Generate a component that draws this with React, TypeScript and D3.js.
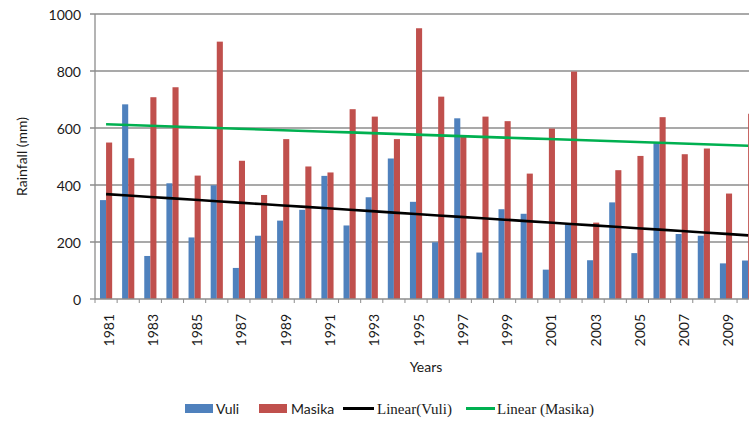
import * as d3 from 'd3';

const years = d3.range(1981, 2011).map(String);
const vuli = [347, 683, 151, 406, 216, 399, 109, 222, 275, 313, 432, 258, 357, 493, 341, 199, 634, 163, 315, 299, 103, 264, 136, 339, 161, 547, 228, 222, 125, 135];
const masika = [549, 494, 708, 743, 433, 903, 485, 365, 561, 465, 444, 666, 640, 561, 950, 710, 570, 640, 624, 440, 598, 798, 268, 452, 502, 638, 508, 528, 370, 650];
const yTicks = [0, 200, 400, 600, 800, 1000];
const seriesNames = ['Vuli', 'Masika'];

const width = 749;
const height = 421;
const plotLeft = 95;
const plotTop = 14;
const plotBottom = 299;
const step = 22.14;

const blue = '#4F81BD';
const red = '#C0504D';
const green = '#00B050';
const grid = '#8c8c8c';
const sansFont = 'Lato, "Open Sans", sans-serif';

// least-squares trend, like Excel's linear trendline
function linearTrend(values: number[]) {
  const n = values.length;
  const mx = (n - 1) / 2;
  const my = d3.mean(values) || 0;
  let num = 0;
  let den = 0;
  values.forEach((v, i) => {
    num += (i - mx) * (v - my);
    den += (i - mx) * (i - mx);
  });
  const slope = num / den;
  return values.map((_, i) => my + slope * (i - mx));
}

export default function App() {
  const x = d3.scaleBand<string>()
    .domain(years)
    .range([plotLeft, plotLeft + step * years.length])
    .paddingInner(0.45)
    .paddingOuter(0.225);
  const sub = d3.scaleBand<string>().domain(seriesNames).range([0, x.bandwidth()]);
  const y = d3.scaleLinear().domain([0, 1000]).range([plotBottom, plotTop]);

  const center = (yr: string) => (x(yr) || 0) + x.bandwidth() / 2;
  const line = d3.line<number>()
    .x((_, i) => center(years[i]))
    .y(d => y(d));

  const vuliTrend = linearTrend(vuli);
  const masikaTrend = linearTrend(masika);

  const boundaries = d3.range(years.length + 1).map(i => plotLeft + i * step);

  return (
    <svg width={width} height={height} style={{ position: 'absolute', left: 0, top: 0, background: '#fff' }}>
      {/* gridlines */}
      {yTicks.filter(t => t > 0).map(t => (
        <line key={t} x1={plotLeft - 5} x2={width} y1={y(t)} y2={y(t)} stroke={grid} strokeWidth={1.3} />
      ))}
      <line x1={plotLeft - 5} x2={plotLeft} y1={y(0)} y2={y(0)} stroke={grid} strokeWidth={1.3} />
      <line x1={plotLeft} x2={plotLeft} y1={plotTop} y2={plotBottom} stroke={grid} strokeWidth={1.3} />

      {/* bars */}
      {years.map((yr, i) => (
        <g key={yr}>
          <rect x={(x(yr) || 0) + (sub('Vuli') || 0)} y={y(vuli[i])} width={sub.bandwidth()} height={plotBottom - y(vuli[i])} fill={blue} />
          <rect x={(x(yr) || 0) + (sub('Masika') || 0)} y={y(masika[i])} width={sub.bandwidth()} height={plotBottom - y(masika[i])} fill={red} />
        </g>
      ))}

      {/* x axis */}
      <line x1={plotLeft} x2={width} y1={plotBottom} y2={plotBottom} stroke={grid} strokeWidth={1.3} />
      {boundaries.map((bx, i) => (
        <line key={i} x1={bx} x2={bx} y1={plotBottom} y2={plotBottom + 4} stroke={grid} strokeWidth={1} />
      ))}

      {/* trendlines */}
      <path d={line(vuliTrend) || ''} fill="none" stroke="#000" strokeWidth={2.6} />
      <path d={line(masikaTrend) || ''} fill="none" stroke={green} strokeWidth={2.6} />

      {/* y tick labels */}
      {yTicks.map(t => (
        <text key={t} x={81} y={y(t)} textAnchor="end" dominantBaseline="central" fontFamily={sansFont} fontSize={14} fill="#1a1a1a">
          {t}
        </text>
      ))}

      {/* x tick labels */}
      {years.filter((_, i) => i % 2 === 0).map(yr => (
        <text key={yr} transform={`translate(${center(yr) + 2},314) rotate(-90)`} textAnchor="end" dominantBaseline="central" fontFamily={sansFont} fontSize={14} fill="#1a1a1a">
          {yr}
        </text>
      ))}

      {/* axis titles */}
      <text transform={`translate(21,${(plotTop + plotBottom) / 2}) rotate(-90)`} textAnchor="middle" dominantBaseline="central" fontFamily={sansFont} fontSize={14} fill="#1a1a1a">
        Rainfall (mm)
      </text>
      <text x={426} y={366} textAnchor="middle" dominantBaseline="central" fontFamily={sansFont} fontSize={14} fill="#1a1a1a">
        Years
      </text>

      {/* legend */}
      <g fontFamily={sansFont} fontSize={14} fill="#1a1a1a">
        <rect x={185} y={404} width={28} height={9} fill={blue} />
        <text x={216} y={408} dominantBaseline="central">Vuli</text>
        <rect x={259} y={404} width={28} height={9} fill={red} />
        <text x={291} y={408} dominantBaseline="central">Masika</text>
      </g>
      <line x1={343} x2={374} y1={408.5} y2={408.5} stroke="#000" strokeWidth={3} />
      <text x={377} y={409} dominantBaseline="central" fontFamily='"Liberation Serif", "Times New Roman", serif' fontSize={15} fill="#1a1a1a">
        Linear(Vuli)
      </text>
      <line x1={466} x2={495} y1={408.5} y2={408.5} stroke={green} strokeWidth={3} />
      <text x={497} y={409} dominantBaseline="central" fontFamily='"Liberation Serif", "Times New Roman", serif' fontSize={15} fill="#1a1a1a">
        Linear (Masika)
      </text>
    </svg>
  );
}
